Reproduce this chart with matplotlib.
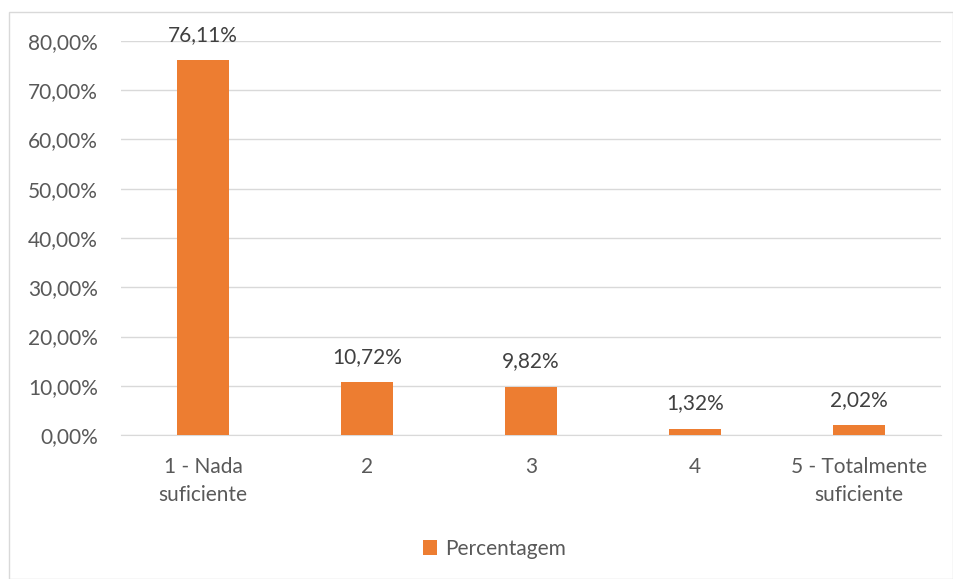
import matplotlib.pyplot as plt
from matplotlib.patches import Rectangle

categories = ['1 - Nada\nsuficiente', '2', '3', '4', '5 - Totalmente\nsuficiente']
percentagem = [76.11, 10.72, 9.82, 1.32, 2.02]
y_ticks = [0, 10, 20, 30, 40, 50, 60, 70, 80]

plt.rcParams['font.family'] = ['Lato', 'DejaVu Sans']
text_color = '#595959'
fs = 15

fig = plt.figure(figsize=(9.54, 5.79), dpi=100)
ax = fig.add_axes([0.1268, 0.2487, 0.8596, 0.6805])

# moldura do gráfico
fig.patches.append(Rectangle((9 / 954, 0), 944 / 954, 567 / 579, transform=fig.transFigure,
                             fill=False, edgecolor='#D9D9D9', linewidth=1))

x = list(range(len(categories)))
bars = ax.bar(x, percentagem, width=0.32, color='#ED7D31', label='Percentagem', zorder=3)

for bar, v in zip(bars, percentagem):
    ax.annotate(f'{v:.2f}'.replace('.', ',') + '%',
                (bar.get_x() + bar.get_width() / 2, bar.get_height()),
                xytext=(0, 11), textcoords='offset points',
                ha='center', va='bottom', fontsize=fs, color='#404040')

ax.set_xlim(-0.5, 4.5)
ax.set_ylim(0, 80)
ax.set_yticks(y_ticks)
ax.set_yticklabels([f'{t:.2f}'.replace('.', ',') + '%' for t in y_ticks])
ax.set_xticks(x)
ax.set_xticklabels(categories, linespacing=1.5)
ax.tick_params(axis='both', length=0, labelsize=fs, labelcolor=text_color)
ax.tick_params(axis='y', pad=16.5)
ax.tick_params(axis='x', pad=16)
ax.grid(axis='y', color='#D9D9D9', linewidth=1, zorder=0)
for s in ['top', 'right', 'left']:
    ax.spines[s].set_visible(False)
ax.spines['bottom'].set_color('#D9D9D9')

fig.legend(loc='center', bbox_to_anchor=(0.518, 0.052), frameon=False, fontsize=fs,
           handlelength=0.7, handleheight=0.7, handletextpad=0.35, labelcolor=text_color)

fig.savefig('out.png', dpi=100)
